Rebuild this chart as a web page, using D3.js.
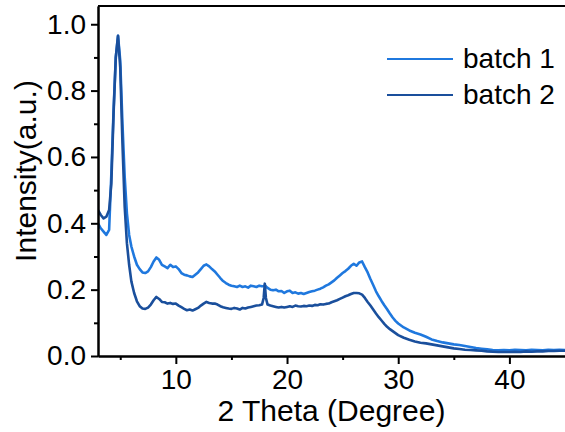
<!DOCTYPE html>
<html>
<head>
<meta charset="utf-8">
<script src="https://cdn.jsdelivr.net/npm/d3@7"></script>
<style>
  body { margin: 0; background: #fff; }
  text { font-family: "Liberation Sans", Arial, sans-serif; fill: #000; }
</style>
</head>
<body>
<div id="chart"></div>
<script>
// XRD patterns, [2theta, intensity]
const batch1 = [
  [3.0,0.40],[3.25,0.385],[3.5,0.375],[3.75,0.365],[4.0,0.38],[4.2,0.55],[4.4,0.74],[4.6,0.90],[4.8,0.965],
  [5.0,0.89],[5.2,0.70],[5.4,0.54],[5.6,0.43],[5.8,0.365],[6.0,0.33],[6.25,0.30],[6.5,0.275],[6.75,0.262],
  [7.0,0.252],[7.25,0.25],[7.5,0.255],[7.75,0.268],[8.0,0.285],[8.25,0.297],[8.5,0.29],[8.75,0.275],
  [9.0,0.27],[9.25,0.265],[9.5,0.275],[9.75,0.268],[10.0,0.27],[10.25,0.262],[10.5,0.25],[10.75,0.245],
  [11.0,0.243],[11.25,0.24],[11.5,0.238],[11.75,0.245],[12.0,0.252],[12.25,0.262],[12.5,0.272],[12.75,0.276],
  [13.0,0.27],[13.25,0.262],[13.5,0.255],[13.75,0.245],[14.0,0.235],[14.25,0.226],[14.5,0.22],[14.75,0.215],
  [15.0,0.212],[15.25,0.21],[15.5,0.208],[15.75,0.212],[16.0,0.208],[16.25,0.21],[16.5,0.206],[16.75,0.212],
  [17.0,0.21],[17.25,0.208],[17.5,0.212],[17.75,0.21],[17.9,0.211],[18.0,0.213],[18.1,0.21],[18.25,0.205],
  [18.5,0.2],[18.75,0.198],[19.0,0.2],[19.25,0.195],[19.5,0.196],[19.75,0.19],[20.0,0.195],[20.25,0.197],
  [20.5,0.19],[20.75,0.192],[21.0,0.188],[21.25,0.19],[21.5,0.187],[21.75,0.19],[22.0,0.193],[22.25,0.195],
  [22.5,0.197],[22.75,0.2],[23.0,0.203],[23.25,0.207],[23.5,0.212],[23.75,0.216],[24.0,0.222],[24.25,0.228],
  [24.5,0.236],[24.75,0.243],[25.0,0.25],[25.25,0.256],[25.5,0.263],[25.75,0.272],[26.0,0.278],[26.25,0.272],
  [26.5,0.282],[26.75,0.285],[27.0,0.268],[27.25,0.252],[27.5,0.232],[27.75,0.214],[28.0,0.195],[28.25,0.18],
  [28.5,0.166],[28.75,0.153],[29.0,0.141],[29.25,0.128],[29.5,0.116],[29.75,0.106],[30.0,0.098],[30.5,0.086],
  [31.0,0.077],[31.5,0.07],[32.0,0.065],[32.5,0.058],[33.0,0.05],[33.5,0.045],[34.0,0.041],[34.5,0.038],
  [35.0,0.035],[35.5,0.033],[36.0,0.03],[36.5,0.027],[37.0,0.024],[37.5,0.022],[38.0,0.02],[38.5,0.018],
  [39.0,0.017],[39.5,0.018],[40.0,0.017],[40.5,0.019],[41.0,0.018],[41.5,0.017],[42.0,0.019],[42.5,0.018],
  [43.0,0.017],[43.5,0.019],[44.0,0.018],[44.5,0.019],[45.0,0.018]
];

const batch2 = [
  [3.0,0.44],[3.25,0.425],[3.5,0.415],[3.75,0.42],[4.0,0.44],[4.2,0.52],[4.4,0.73],[4.6,0.90],[4.8,0.965],
  [5.0,0.87],[5.2,0.64],[5.4,0.45],[5.6,0.34],[5.8,0.275],[6.0,0.225],[6.25,0.19],[6.5,0.165],[6.75,0.15],
  [7.0,0.143],[7.25,0.142],[7.5,0.146],[7.75,0.155],[8.0,0.168],[8.25,0.178],[8.5,0.172],[8.75,0.163],
  [9.0,0.162],[9.25,0.158],[9.5,0.16],[9.75,0.157],[10.0,0.158],[10.25,0.152],[10.5,0.147],[10.75,0.142],
  [11.0,0.138],[11.25,0.14],[11.5,0.137],[11.75,0.141],[12.0,0.145],[12.25,0.152],[12.5,0.158],[12.75,0.163],
  [13.0,0.16],[13.25,0.158],[13.5,0.158],[13.75,0.155],[14.0,0.15],[14.25,0.147],[14.5,0.145],[14.75,0.143],
  [15.0,0.142],[15.25,0.145],[15.5,0.143],[15.75,0.14],[16.0,0.145],[16.25,0.143],[16.5,0.146],[16.75,0.148],
  [17.0,0.15],[17.25,0.152],[17.5,0.153],[17.75,0.155],[17.9,0.175],[18.0,0.218],[18.1,0.175],[18.25,0.155],
  [18.5,0.152],[18.75,0.15],[19.0,0.148],[19.25,0.146],[19.5,0.148],[19.75,0.146],[20.0,0.148],[20.25,0.15],
  [20.5,0.148],[20.75,0.152],[21.0,0.15],[21.25,0.149],[21.5,0.151],[21.75,0.15],[22.0,0.152],[22.25,0.151],
  [22.5,0.154],[22.75,0.153],[23.0,0.156],[23.25,0.155],[23.5,0.157],[23.75,0.158],[24.0,0.162],[24.25,0.165],
  [24.5,0.168],[24.75,0.172],[25.0,0.176],[25.25,0.18],[25.5,0.183],[25.75,0.187],[26.0,0.19],[26.25,0.19],
  [26.5,0.189],[26.75,0.185],[27.0,0.175],[27.25,0.163],[27.5,0.152],[27.75,0.14],[28.0,0.128],[28.25,0.117],
  [28.5,0.107],[28.75,0.097],[29.0,0.088],[29.25,0.081],[29.5,0.075],[29.75,0.069],[30.0,0.063],[30.5,0.055],
  [31.0,0.049],[31.5,0.044],[32.0,0.04],[32.5,0.038],[33.0,0.035],[33.5,0.032],[34.0,0.029],[34.5,0.026],
  [35.0,0.023],[35.5,0.021],[36.0,0.019],[36.5,0.018],[37.0,0.017],[37.5,0.016],[38.0,0.014],[38.5,0.013],
  [39.0,0.012],[39.5,0.012],[40.0,0.012],[40.5,0.013],[41.0,0.012],[41.5,0.014],[42.0,0.013],[42.5,0.014],
  [43.0,0.014],[43.5,0.015],[44.0,0.015],[44.5,0.016],[45.0,0.016]
];

const seriesNames = ["batch 1", "batch 2"];
const seriesColors = ["#1f78de", "#1a4f9c"];
const xTicks = [10, 20, 30, 40];
const xMinor = [5, 15, 25, 35];
const yTicks = [0, 0.2, 0.4, 0.6, 0.8, 1.0];
const yMinor = [0.1, 0.3, 0.5, 0.7, 0.9];

const W = 565, H = 432;
const margin = { top: 6, right: 0, bottom: 76, left: 98 };
const width = W - margin.left - margin.right;
const height = H - margin.top - margin.bottom;

const svg = d3.select("#chart").append("svg")
  .attr("width", W).attr("height", H);

const g = svg.append("g")
  .attr("transform", `translate(${margin.left},${margin.top})`);

const x = d3.scaleLinear().domain([3, 45]).range([0, width]);
const y = d3.scaleLinear().domain([0, 1.055]).range([height, 0]);

// clip curves to the plot box
g.append("clipPath").attr("id", "clip")
  .append("rect").attr("width", width).attr("height", height);

const line = d3.line()
  .x((d) => x(d[0]))
  .y((d) => y(d[1]));

[batch1, batch2].forEach((data, i) => {
  g.append("path")
    .datum(data)
    .attr("clip-path", "url(#clip)")
    .attr("fill", "none")
    .attr("stroke", seriesColors[i])
    .attr("stroke-width", 2.6)
    .attr("stroke-linejoin", "round")
    .attr("d", line);
});

// axes
g.append("g")
  .attr("transform", `translate(0,${height})`)
  .call(d3.axisBottom(x).tickValues(xTicks).tickSize(8).tickPadding(5).tickSizeOuter(0));

g.append("g")
  .attr("transform", `translate(0,${height})`)
  .call(d3.axisBottom(x).tickValues(xMinor).tickSize(4).tickFormat("").tickSizeOuter(0));

g.append("g")
  .call(d3.axisLeft(y).tickValues(yTicks).tickSize(7).tickPadding(5).tickSizeOuter(0)
    .tickFormat(d3.format(".1f")));

g.append("g")
  .call(d3.axisLeft(y).tickValues(yMinor).tickSize(4).tickFormat("").tickSizeOuter(0));

// top frame line
g.append("line")
  .attr("x1", 0).attr("x2", width)
  .attr("y1", 0).attr("y2", 0)
  .attr("stroke", "#000").attr("stroke-width", 2);

g.selectAll(".domain, .tick line").attr("stroke", "#000").attr("stroke-width", 2);
g.selectAll(".tick text")
  .style("font-family", '"Liberation Sans", Arial, sans-serif')
  .style("font-size", "28px")
  .attr("fill", "#000");

// axis titles
svg.append("text")
  .attr("x", margin.left + width / 2)
  .attr("y", 421)
  .attr("text-anchor", "middle")
  .style("font-size", "30px")
  .text("2 Theta (Degree)");

svg.append("text")
  .attr("transform", "translate(36,171) rotate(-90)")
  .attr("text-anchor", "middle")
  .style("font-size", "30px")
  .text("Intensity(a.u.)");

// legend
seriesNames.forEach((name, i) => {
  const ly = 59 + i * 36;
  svg.append("line")
    .attr("x1", 387).attr("x2", 453)
    .attr("y1", ly).attr("y2", ly)
    .attr("stroke", seriesColors[i])
    .attr("stroke-width", 2.2);
  svg.append("text")
    .attr("x", 463)
    .attr("y", ly + 9)
    .style("font-size", "28px")
    .text(name);
});
</script>
</body>
</html>
